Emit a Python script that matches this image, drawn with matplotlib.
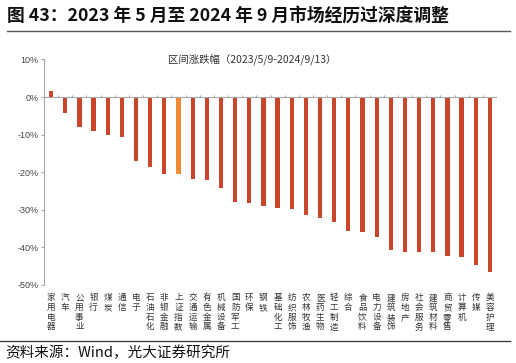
import matplotlib
matplotlib.use("Agg")
import matplotlib.pyplot as plt
import numpy as np

plt.rcParams['font.family'] = ['Noto Sans CJK SC', 'DejaVu Sans']

# data
categories = ["家用电器", "汽车", "公用事业", "银行", "煤炭", "通信", "电子", "石油石化",
              "非银金融", "上证指数", "交通运输", "有色金属", "机械设备", "国防军工", "环保",
              "钢铁", "基础化工", "纺织服饰", "农林牧渔", "医药生物", "轻工制造", "综合",
              "食品饮料", "电力设备", "建筑装饰", "房地产", "社会服务", "建筑材料",
              "商贸零售", "计算机", "传媒", "美容护理"]
values = [1.5, -4.3, -7.9, -9.1, -10.0, -10.5, -16.9, -18.7,
          -20.4, -20.5, -21.8, -22.0, -24.1, -27.8, -28.2,
          -29.1, -29.5, -29.7, -31.4, -32.2, -33.2, -35.6,
          -35.8, -37.3, -40.8, -41.1, -41.1, -41.2,
          -42.2, -42.5, -44.8, -46.5]
highlight = "上证指数"
yticks = [10, 0, -10, -20, -30, -40, -50]

bar_color = "#C9462C"
hl_color = "#F08A35"
axis_color = "#A8A8A8"

fig = plt.figure(figsize=(5.16, 3.63), dpi=100)
ax = fig.add_axes([44 / 516, 78 / 363, 453 / 516, 225.5 / 363])

x = np.arange(len(categories))
colors = [hl_color if c == highlight else bar_color for c in categories]
ax.bar(x, values, width=0.3, color=colors, zorder=2)

ax.set_xlim(-0.5, len(categories) - 0.5)
ax.set_ylim(-50, 10)

# zero line with small upward ticks between categories
ax.axhline(0, color=axis_color, lw=0.8, zorder=3)
ax.vlines(np.arange(len(categories) + 1) - 0.5, 0, 0.6, color=axis_color, lw=0.8, zorder=3)

for s in ["top", "right", "bottom"]:
    ax.spines[s].set_visible(False)
ax.spines["left"].set_color(axis_color)
ax.spines["left"].set_linewidth(0.8)

ax.set_yticks(yticks)
ax.set_yticklabels([f"{v}%" for v in yticks], fontsize=6.5, color="#444444",
                   family="Liberation Sans")
ax.tick_params(axis="y", length=2, width=0.8, color=axis_color, pad=2)

ax.set_xticks(x)
ax.set_xticklabels(["\n".join(c) for c in categories], fontsize=6.2, color="#333333",
                   linespacing=1.1, va="top")
ax.tick_params(axis="x", length=0, pad=6)

ax.text(0.46, 1.0, "区间涨跌幅（2023/5/9-2024/9/13）", transform=ax.transAxes,
        ha="center", va="center", fontsize=7.5, color="#333333")

fig.text(7 / 516, 1 - 16 / 363, "图 43：2023 年 5 月至 2024 年 9 月市场经历过深度调整",
         ha="left", va="center", fontsize=12.8, fontweight="bold", color="#111111")
fig.add_artist(plt.Line2D([7 / 516, 510 / 516], [1 - 31 / 363, 1 - 31 / 363],
                          color="#555555", lw=1.0))
fig.add_artist(plt.Line2D([0, 510 / 516], [1 - 341 / 363, 1 - 341 / 363],
                          color="#333333", lw=0.9))
fig.text(5 / 516, 1 - 352.5 / 363, "资料来源：Wind，光大证券研究所",
         ha="left", va="center", fontsize=10.5, color="#111111")

fig.savefig("out.png", dpi=100)
